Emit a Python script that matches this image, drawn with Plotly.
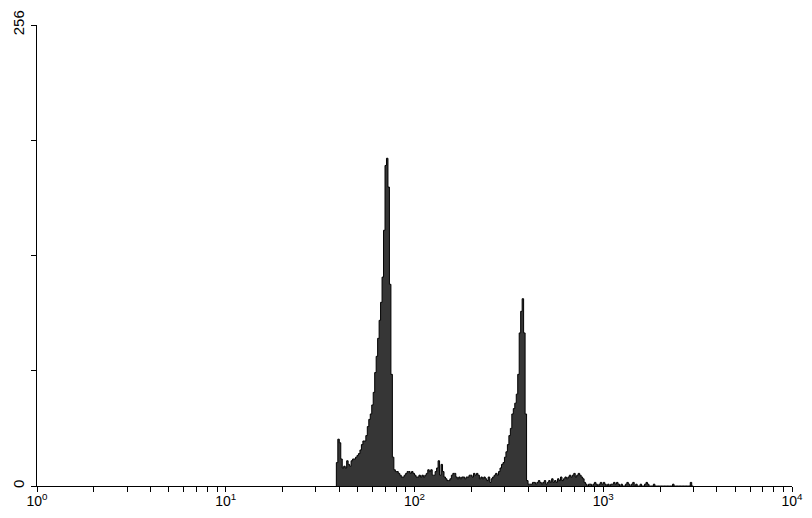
import plotly.graph_objects as go

# Histogram: 512 log channels spanning 4 decades (10^0 .. 10^4)
n_channels = 512
decades = 4
first_channel = 203

counts = [
    # 203-242 : first peak
    13, 26, 24, 15, 10, 11, 10, 14, 12, 11,
    14, 15, 15, 16, 17, 18, 20, 23, 25, 25,
    28, 33, 37, 40, 45, 52, 63, 72, 82, 92,
    102, 116, 142, 178, 182, 166, 112, 62, 16, 9,
    # 243-312 : baseline between peaks
    8, 8, 7, 6, 5, 5, 6, 7, 8, 8,
    7, 8, 7, 6, 5, 5, 6, 5, 6, 5,
    6, 7, 9, 8, 9, 6, 6, 8, 10, 14,
    6, 12, 8, 5, 4, 3, 3, 4, 6, 7,
    7, 5, 4, 5, 4, 5, 5, 4, 5, 5,
    6, 6, 5, 7, 6, 7, 6, 4, 5, 4,
    5, 4, 3, 5, 2, 4, 5, 6, 7, 6,
    # 313-332 : second peak
    8, 10, 12, 13, 16, 19, 23, 28, 32, 40,
    43, 46, 51, 62, 85, 97, 104, 85, 40, 3,
    # 333-372 : shoulder after second peak
    1, 1, 1, 2, 2, 1, 2, 3, 2, 1,
    2, 3, 1, 2, 3, 2, 4, 2, 3, 2,
    4, 3, 5, 3, 4, 5, 4, 5, 6, 5,
    6, 7, 5, 6, 7, 6, 5, 4, 2, 1,
    # 373-444 : sparse tail
    0, 1, 1, 0, 1, 2, 1, 0, 1, 2,
    1, 2, 1, 0, 1, 0, 1, 1, 2, 1,
    2, 1, 0, 1, 0, 0, 1, 2, 1, 0,
    1, 2, 0, 1, 0, 0, 1, 0, 0, 1,
    2, 1, 0, 0, 0, 1, 0, 0, 0, 0,
    0, 0, 0, 0, 0, 0, 0, 0, 1, 0,
    0, 0, 0, 0, 0, 0, 0, 0, 0, 0,
    2, 0,
]

x_tick_vals = [1, 10, 100, 1000, 10000]
x_tick_text = ["10<sup>0</sup>", "10<sup>1</sup>", "10<sup>2</sup>",
               "10<sup>3</sup>", "10<sup>4</sup>"]
y_tick_vals = [0, 256]
y_tick_text = ["0", "256"]
y_minor_vals = [64, 128, 192]


def edge(c):
    return 10 ** (c * decades / n_channels)


xs = [edge(first_channel)]
ys = [0]
for i, v in enumerate(counts):
    xs.append(edge(first_channel + i))
    ys.append(v)
xs.append(edge(first_channel + len(counts)))
ys.append(0)

minor_vals = []
for d in range(decades):
    for m in range(2, 10):
        minor_vals.append(m * 10 ** d)

fig = go.Figure()
fig.add_trace(go.Scatter(
    x=xs, y=ys, mode="lines", line=dict(shape="hv", color="black", width=1),
    fill="tozeroy", fillcolor="#363636", hoverinfo="skip", showlegend=False,
))

# page body has an 8px default margin; figure sized to fit the 812x518 window
fig.update_layout(
    width=796, height=502,
    margin=dict(l=29, r=12, t=17, b=24),
    paper_bgcolor="white", plot_bgcolor="white",
    font=dict(family="Liberation Sans, Arial, sans-serif", size=14, color="black"),
    xaxis=dict(
        type="log", range=[0, 4], showgrid=False, zeroline=False,
        showline=True, linecolor="black", linewidth=1, automargin=False,
        ticks="outside", ticklen=5, tickcolor="black", tickwidth=1,
        tickvals=x_tick_vals, ticktext=x_tick_text,
        ticklabeloverflow="allow", ticklabelstandoff=-3,
        tickfont=dict(size=14),
        minor=dict(tickvals=minor_vals, ticks="outside", ticklen=5,
                   tickcolor="black", tickwidth=1, showgrid=False),
    ),
    yaxis=dict(
        range=[0, 256], showgrid=False, zeroline=False,
        showline=True, linecolor="black", linewidth=1, automargin=False,
        ticks="outside", ticklen=5, tickcolor="black", tickwidth=1,
        tickvals=y_tick_vals, ticktext=y_tick_text, tickangle=-90,
        ticklabeloverflow="allow", ticklabelstandoff=1,
        tickfont=dict(size=15),
        minor=dict(tickvals=y_minor_vals, ticks="outside", ticklen=5,
                   tickcolor="black", tickwidth=1, showgrid=False),
    ),
)

fig.write_html("out.html")
